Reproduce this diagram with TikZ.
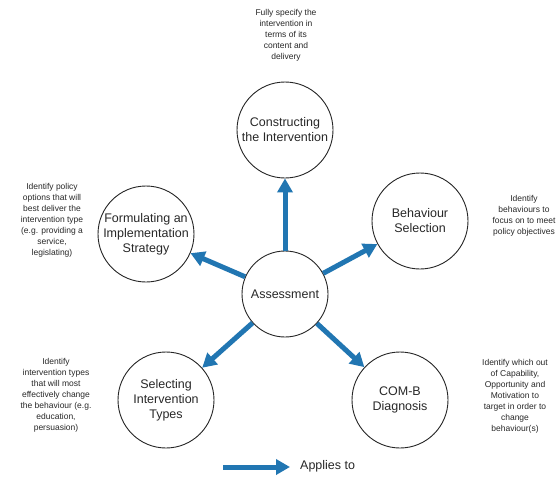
\documentclass[tikz,border=0pt]{standalone}
\usepackage{fontspec}
\setmainfont{Liberation Sans}
\usetikzlibrary{arrows.meta}
\definecolor{arrowblue}{RGB}{33,118,178}
\definecolor{txt}{RGB}{40,40,40}
\begin{document}
\begin{tikzpicture}[x=1pt,y=-1pt,
  stage/.style={circle,draw=black!85,line width=0.9pt,minimum size=96pt,inner sep=0pt,align=center,font=\fontsize{12.5}{15}\selectfont,text=txt},
  hub/.style={stage,minimum size=86pt},
  note/.style={align=center,font=\fontsize{8.5}{11}\selectfont,text=txt,inner sep=0pt},
  link/.style={draw=arrowblue,line width=5pt,-{Triangle[length=14pt,width=15pt]}},
]
\useasboundingbox[fill=white] (0,0) rectangle (558,477);

\node[hub] (as) at (285,294) {Assessment};
\node[stage] (ci) at (285,130) {Constructing\\the Intervention};
\node[stage] (bs) at (420,221) {Behaviour\\Selection};
\node[stage] (fi) at (146,234) {Formulating an\\Implementation\\Strategy};
\node[stage] (si) at (166,400) {Selecting\\Intervention\\Types};
\node[stage] (cb) at (400,400) {COM-B\\Diagnosis};

\draw[link] (as) -- (ci);
\draw[link] (as) -- (bs);
\draw[link] (as) -- (fi);
\draw[link] (as) -- (si);
\draw[link] (as) -- (cb);

\node[note] (n1) at (286,35) {Fully specify the\\intervention in\\terms of its\\content and\\delivery};
\node[note] (n2) at (52,220) {Identify policy\\options that will\\best deliver the\\intervention type\\(e.g. providing a\\service,\\legislating)};
\node[note] (n3) at (524,216) {Identify\\behaviours to\\focus on to meet\\policy objectives};
\node[note] (n4) at (56,395) {Identify\\intervention types\\that will most\\effectively change\\the behaviour (e.g.\\education,\\persuasion)};
\node[note] (n5) at (515,396) {Identify which out\\of Capability,\\Opportunity and\\Motivation to\\target in order to\\change\\behaviour(s)};

\coordinate (l1) at (223,467);
\coordinate (l2) at (290,467);
\draw[link] (l1) -- (l2);
\node[anchor=west,inner sep=0pt,font=\fontsize{12.5}{15}\selectfont,text=txt] (lg) at (300,466) {Applies to};
\end{tikzpicture}
\end{document}
